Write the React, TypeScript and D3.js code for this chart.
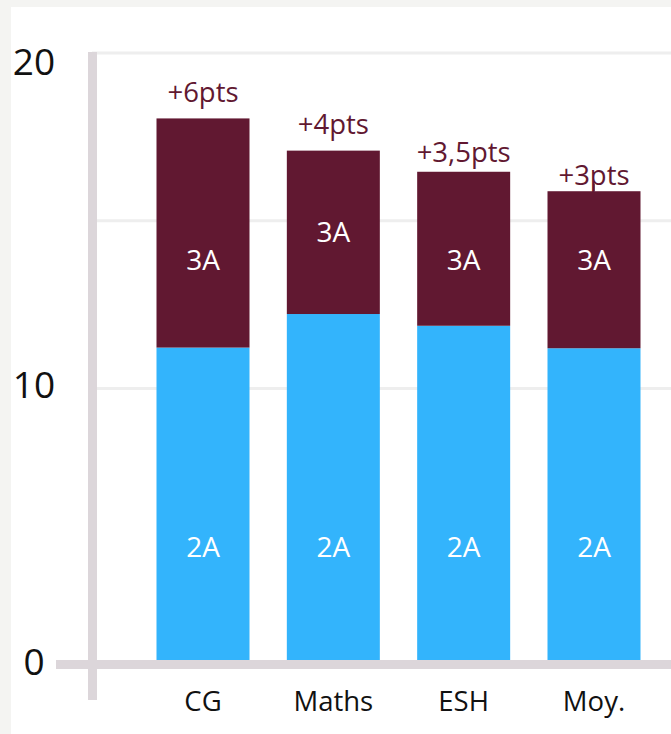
import React from "react";
import * as d3 from "d3";

const categories = ["CG", "Maths", "ESH", "Moy."];
const values2A = [11.22, 12.22, 11.87, 11.2];
const values3A = [6.83, 4.87, 4.59, 4.68];
const gains = ["+6pts", "+4pts", "+3,5pts", "+3pts"];
const yTicks = [0, 10, 20];
const gridValues = [10, 15, 20];
const label2AValues = [4.2, 4.2, 4.2, 4.2];
const label3AValues = [13.85, 14.7, 13.85, 13.85];
const gainGap = [16, 17, 10, 6];
const gainLeader = [false, false, false, true];
const tickNudge = [0, -5, 7];

const W = 671;
const H = 734;
const MAROON = "#611831";
const BLUE = "#33b4fc";
const AXIS = "#dcd6da";
const GRID = "#eeeeee";
const FONT = "'Open Sans', 'Noto Sans', sans-serif";

export default function App() {
  const x = d3.scalePoint<string>().domain(categories).range([203, 594]);
  const y = d3.scaleLinear().domain([0, 10, 20]).range([660, 388.5, 53]);
  const bw = 93;
  const stack = categories.map((c, i) => ({
    c,
    a: values2A[i],
    t: values2A[i] + values3A[i],
  }));

  return (
    <svg
      width={W}
      height={H}
      style={{ position: "absolute", left: 0, top: 0, display: "block" }}
    >
      <rect x={0} y={0} width={W} height={H} fill="#f4f4f2" />
      <rect x={11} y={7} width={W} height={H} fill="#ffffff" />
      {gridValues.map((g) => (
        <line key={g} x1={92} x2={W} y1={y(g)} y2={y(g)} stroke={GRID} strokeWidth={3} />
      ))}
      <line x1={92.5} x2={92.5} y1={y(20) - 1} y2={y(0) + 40} stroke={AXIS} strokeWidth={9} />
      {stack.map((d, i) => {
        const cx = x(d.c)!;
        return (
          <g key={d.c}>
            <rect x={cx - bw / 2} y={y(d.a)} width={bw} height={y(0) - y(d.a)} fill={BLUE} />
            <rect x={cx - bw / 2} y={y(d.t)} width={bw} height={y(d.a) - y(d.t)} fill={MAROON} />
            <text
              x={cx}
              y={y(label3AValues[i])}
              fill="#ffffff"
              fontSize={28}
              fontFamily={FONT}
              textAnchor="middle"
              dominantBaseline="central"
            >
              3A
            </text>
            <text
              x={cx}
              y={y(label2AValues[i])}
              fill="#ffffff"
              fontSize={28}
              fontFamily={FONT}
              textAnchor="middle"
              dominantBaseline="central"
            >
              2A
            </text>
            <text
              x={cx}
              y={y(d.t) - gainGap[i]}
              fill={MAROON}
              fontSize={27.5}
              fontFamily={FONT}
              textAnchor="middle"
            >
              {gains[i]}
            </text>
            {gainLeader[i] && (
              <line
                x1={cx}
                x2={cx}
                y1={y(d.t) - gainGap[i] - 2}
                y2={y(d.t)}
                stroke={MAROON}
                strokeWidth={1.5}
              />
            )}
            <text
              x={cx}
              y={y(0) + 51}
              fill="#111111"
              fontSize={27.5}
              fontFamily={FONT}
              textAnchor="middle"
            >
              {d.c}
            </text>
          </g>
        );
      })}
      <line x1={56} x2={W} y1={y(0) + 4.5} y2={y(0) + 4.5} stroke={AXIS} strokeWidth={9} />
      {yTicks.map((t, i) => (
        <text
          key={t}
          x={34}
          y={y(t) + tickNudge[i]}
          fill="#111111"
          fontSize={37}
          fontFamily={FONT}
          textAnchor="middle"
          dominantBaseline="central"
        >
          {t}
        </text>
      ))}
    </svg>
  );
}
